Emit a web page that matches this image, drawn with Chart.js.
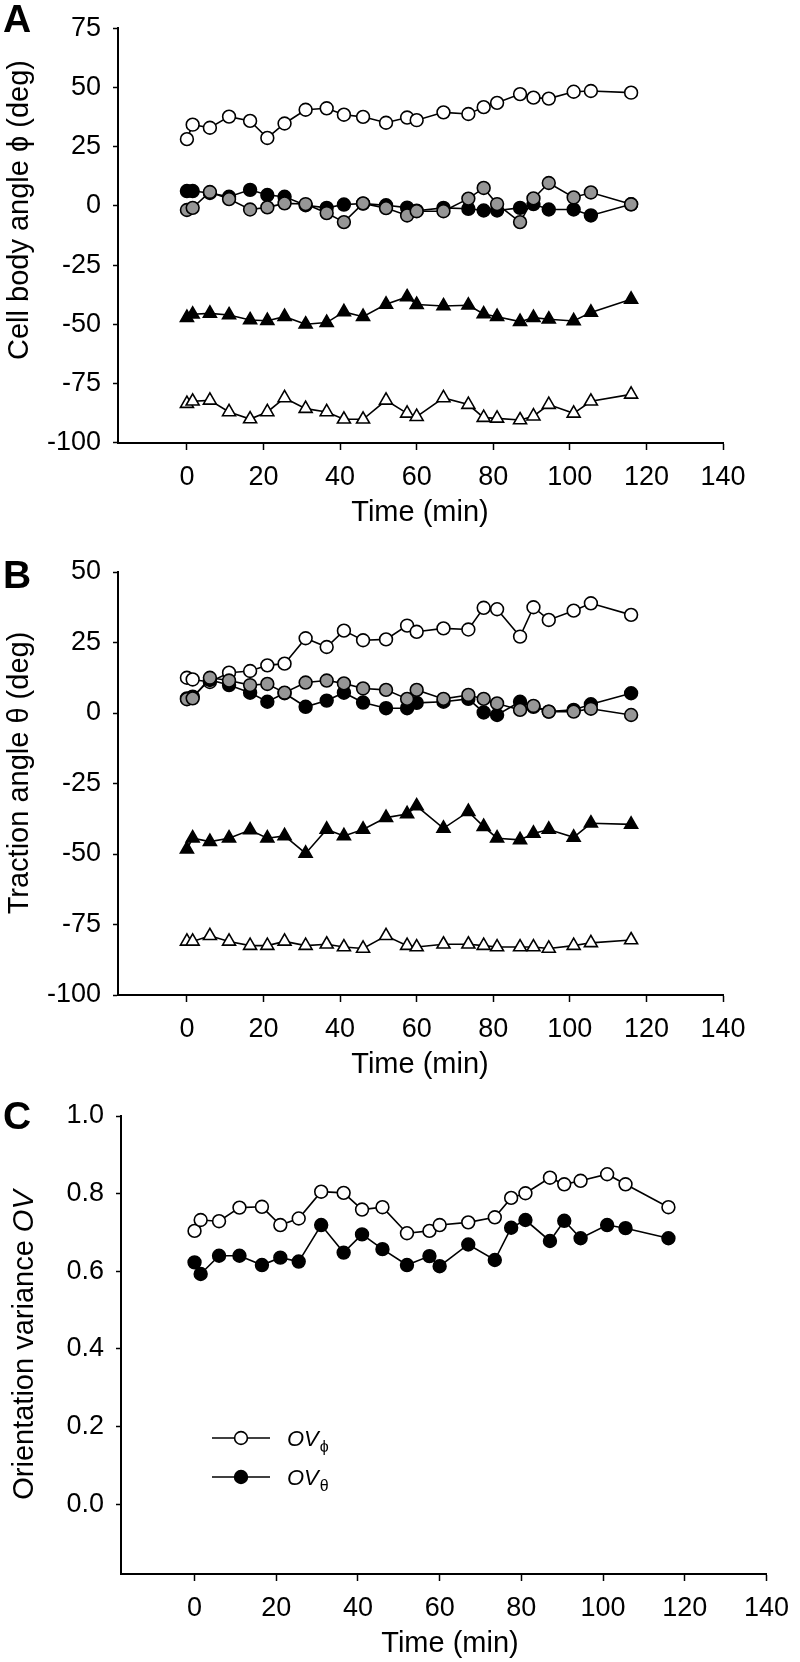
<!DOCTYPE html>
<html>
<head>
<meta charset="utf-8">
<script src="https://cdn.jsdelivr.net/npm/chart.js@4.4.1/dist/chart.umd.min.js"></script>
<style>
  html, body { margin: 0; padding: 0; background: #fff; }
  #wrap { position: relative; width: 800px; height: 1662px; }
  canvas { position: absolute; left: 0; top: 0; }
</style>
</head>
<body>
<div id="wrap">
  <canvas id="cA" width="800" height="1662"></canvas>
  <canvas id="cB" width="800" height="1662"></canvas>
  <canvas id="cC" width="800" height="1662"></canvas>
</div>
<script>
// ---------- DATA ----------
const times = [0, 1.5, 6, 11, 16.5, 21, 25.5, 31, 36.5, 41, 46, 52, 57.5, 60, 67, 73.5, 77.5, 81, 87, 90.5, 94.5, 101, 105.5, 116];

// Panel A: cell body angle phi (deg)
const phiOpenCircle  = [28.2, 34.3, 33.0, 37.7, 35.9, 28.7, 34.8, 40.6, 41.2, 38.5, 37.6, 35.1, 37.3, 36.2, 39.5, 38.8, 41.7, 43.5, 47.2, 45.7, 45.3, 48.2, 48.5, 47.8];
const phiBlackCircle = [6.3, 6.3, 5.5, 3.9, 6.8, 4.6, 3.9, 0.3, -0.8, 0.6, 1.0, 0.3, -0.7, -2.0, -0.8, -1.2, -1.9, -1.9, -0.8, 0.8, -1.5, -1.5, -4.0, 0.7];
const phiGrayCircle  = [-1.7, -0.8, 5.9, 2.9, -1.5, -0.6, 1.1, 0.8, -3.0, -6.8, 1.1, -0.9, -4.0, -2.2, -2.2, 3.1, 7.6, 0.8, -6.8, 3.2, 9.7, 3.6, 5.7, 0.7];
const phiBlackTri    = [-47.1, -45.7, -45.3, -46.0, -48.1, -48.4, -46.7, -49.9, -49.2, -44.7, -46.7, -41.5, -38.4, -41.6, -42.2, -41.9, -45.6, -46.7, -48.8, -47.1, -47.8, -48.5, -44.9, -39.4];
const phiOpenTri     = [-83.4, -82.4, -82.0, -86.9, -89.9, -86.9, -81.0, -85.5, -86.9, -90.0, -90.0, -82.0, -87.5, -88.9, -81.0, -83.8, -89.3, -89.6, -90.3, -88.7, -83.8, -87.5, -82.4, -79.5];

// Panel B: traction angle theta (deg)
const thetaOpenCircle  = [12.5, 11.9, 11.0, 14.3, 14.9, 16.9, 17.5, 26.5, 23.4, 29.2, 25.8, 26.1, 31.0, 28.8, 30.0, 29.6, 37.3, 36.8, 27.1, 37.5, 33.0, 36.3, 38.9, 34.8];
const thetaBlackCircle = [5.2, 5.8, 11.7, 9.9, 7.2, 4.0, 7.0, 2.2, 4.4, 7.2, 3.7, 1.7, 1.7, 3.6, 4.0, 5.0, 0.2, -0.7, 4.0, 2.2, 0.5, 1.1, 3.1, 7.0];
const thetaGrayCircle  = [4.9, 5.2, 12.5, 11.5, 9.9, 10.3, 7.2, 10.8, 11.5, 10.5, 8.7, 8.2, 5.0, 8.2, 5.0, 6.4, 5.0, 3.4, 1.1, 2.5, 0.5, 0.5, 1.5, -0.7];
const thetaBlackTri    = [-48.3, -44.4, -45.6, -44.4, -41.5, -44.4, -43.6, -49.8, -41.3, -43.6, -41.3, -37.1, -35.8, -33.0, -40.9, -35.0, -40.3, -44.4, -45.0, -42.7, -41.3, -44.1, -39.1, -39.5];
const thetaOpenTri     = [-81.0, -81.0, -79.0, -81.0, -82.5, -82.5, -81.0, -82.5, -82.0, -83.0, -83.5, -79.0, -82.5, -83.0, -82.0, -82.0, -82.5, -83.0, -83.0, -83.0, -83.5, -82.5, -81.5, -80.5];

// Panel C: orientation variance
const ovPhi   = [0.704, 0.732, 0.729, 0.764, 0.766, 0.719, 0.736, 0.805, 0.802, 0.759, 0.765, 0.698, 0.704, 0.719, 0.726, 0.739, 0.789, 0.801, 0.841, 0.824, 0.833, 0.850, 0.824, 0.765];
const ovTheta = [0.623, 0.593, 0.640, 0.640, 0.616, 0.635, 0.625, 0.719, 0.648, 0.695, 0.657, 0.616, 0.639, 0.613, 0.669, 0.629, 0.712, 0.732, 0.678, 0.730, 0.685, 0.719, 0.711, 0.685];

// Ticks
const xTicks  = [0, 20, 40, 60, 80, 100, 120, 140];
const yTicksA = [-100, -75, -50, -25, 0, 25, 50, 75];
const yTicksB = [-100, -75, -50, -25, 0, 25, 50];
const yTicksC = [0.0, 0.2, 0.4, 0.6, 0.8, 1.0];

// ---------- STYLE / LAYOUT ----------
const FONT = "'Liberation Sans', Arial, sans-serif";
const GRAY = '#969696';
const W = 800, H = 1662;

function pts(ys) { return times.map((t, i) => ({ x: t, y: ys[i] })); }

function ds(ys, style, fill) {
  return {
    data: pts(ys),
    borderColor: '#000',
    borderWidth: 1.6,
    pointStyle: style,
    pointRadius: style === 'triangle' ? 7.5 : 6.4,
    pointBorderWidth: 1.6,
    pointBorderColor: '#000',
    pointBackgroundColor: fill,
    fill: false,
    tension: 0
  };
}

// draws a run of text segments (each with own font) centred on (x, y)
function drawRun(ctx, segs) {
  let total = 0;
  for (const s of segs) { ctx.font = s.font; total += ctx.measureText(s.text).width; }
  let cx = -total / 2;
  ctx.textAlign = 'left';
  for (const s of segs) {
    ctx.font = s.font;
    ctx.fillText(s.text, cx, s.dy || 0);
    cx += ctx.measureText(s.text).width;
  }
}

const textPlugin = {
  id: 'extraText',
  afterDraw(chart, args, opts) {
    const ctx = chart.ctx;
    for (const t of (opts.items || [])) {
      ctx.save();
      ctx.translate(t.x, t.y);
      if (t.rot) ctx.rotate(t.rot);
      ctx.fillStyle = '#000';
      ctx.textBaseline = t.baseline || 'middle';
      if (t.segs) {
        drawRun(ctx, t.segs);
      } else {
        ctx.font = t.font;
        ctx.textAlign = t.align || 'center';
        ctx.fillText(t.text, 0, 0);
      }
      ctx.restore();
    }
    if (opts.legend) {
      for (const e of opts.legend) {
        ctx.save();
        ctx.strokeStyle = '#000';
        ctx.lineWidth = 1.6;
        ctx.beginPath();
        ctx.moveTo(e.x1, e.y); ctx.lineTo(e.x2, e.y); ctx.stroke();
        ctx.beginPath();
        ctx.arc((e.x1 + e.x2) / 2, e.y, 6.4, 0, Math.PI * 2);
        ctx.fillStyle = e.fill; ctx.fill();
        ctx.lineWidth = 1.6; ctx.stroke();
        ctx.fillStyle = '#000';
        ctx.textBaseline = 'alphabetic';
        ctx.textAlign = 'left';
        ctx.font = 'italic 22px ' + FONT;
        ctx.fillText(e.main, e.tx, e.y + 8);
        const w = ctx.measureText(e.main).width;
        ctx.font = '16px ' + FONT;
        ctx.fillText(e.sub, e.tx + w + 1, e.y + 14);
        ctx.restore();
      }
    }
  }
};

function makeChart(id, cfg) {
  const xs = cfg.area;
  return new Chart(document.getElementById(id), {
    type: 'line',
    data: { datasets: cfg.datasets },
    plugins: [textPlugin],
    options: {
      responsive: false,
      devicePixelRatio: 1,
      animation: false,
      events: [],
      layout: {
        autoPadding: false,
        padding: { left: 0, top: xs.top, right: W - xs.right, bottom: H - xs.bottom - 100 }
      },
      plugins: {
        legend: { display: false },
        tooltip: { enabled: false },
        extraText: { items: cfg.texts, legend: cfg.legend }
      },
      scales: {
        x: {
          type: 'linear',
          min: cfg.xmin, max: 140,
          afterFit: s => { s.height = 100; },
          afterBuildTicks: s => { s.ticks = xTicks.map(v => ({ value: v })); },
          grid: { display: true, drawOnChartArea: false, drawTicks: true, tickLength: 7, tickColor: '#000', tickWidth: 1.5 },
          border: { display: true, color: '#000', width: 2 },
          ticks: { color: '#000', font: { family: FONT, size: 27 }, padding: 11, maxRotation: 0, autoSkip: false }
        },
        y: {
          type: 'linear',
          min: cfg.ymin, max: cfg.ymax,
          afterFit: s => { s.width = xs.left; },
          afterBuildTicks: s => { s.ticks = cfg.yTicks.map(v => ({ value: v })); },
          grid: { display: true, drawOnChartArea: false, drawTicks: true, tickLength: 5, tickColor: '#000', tickWidth: 1.5 },
          border: { display: true, color: '#000', width: 2 },
          ticks: { color: '#000', font: { family: FONT, size: 27 }, padding: 12, autoSkip: false,
                   callback: cfg.yFmt || (v => String(v)) }
        }
      }
    }
  });
}

const TITLE = '29px ' + FONT;
const TITLE_I = 'italic 29px ' + FONT;
const LETTER = 'bold 39px ' + FONT;

// Panel A
makeChart('cA', {
  area: { left: 118, right: 723, top: 21, bottom: 443 },
  xmin: -18, ymin: -100, ymax: 75, yTicks: yTicksA,
  datasets: [
    ds(phiGrayCircle, 'circle', GRAY),
    ds(phiBlackCircle, 'circle', '#000'),
    ds(phiOpenCircle, 'circle', '#fff'),
    ds(phiBlackTri, 'triangle', '#000'),
    ds(phiOpenTri, 'triangle', '#fff')
  ],
  texts: [
    { text: 'A', x: 3, y: 32, font: LETTER, align: 'left', baseline: 'alphabetic' },
    { text: 'Cell body angle \u03D5 (deg)', x: 20, y: 210, rot: -Math.PI / 2, font: TITLE },
    { text: 'Time (min)', x: 420, y: 521, font: TITLE, baseline: 'alphabetic' }
  ]
});

// Panel B
makeChart('cB', {
  area: { left: 118, right: 723, top: 572, bottom: 995 },
  xmin: -18, ymin: -100, ymax: 50, yTicks: yTicksB,
  datasets: [
    ds(thetaGrayCircle, 'circle', GRAY),
    ds(thetaBlackCircle, 'circle', '#000'),
    ds(thetaOpenCircle, 'circle', '#fff'),
    ds(thetaBlackTri, 'triangle', '#000'),
    ds(thetaOpenTri, 'triangle', '#fff')
  ],
  texts: [
    { text: 'B', x: 3, y: 588, font: LETTER, align: 'left', baseline: 'alphabetic' },
    { text: 'Traction angle \u03B8 (deg)', x: 20, y: 773, rot: -Math.PI / 2, font: TITLE },
    { text: 'Time (min)', x: 420, y: 1073, font: TITLE, baseline: 'alphabetic' }
  ]
});

// Panel C
makeChart('cC', {
  area: { left: 121, right: 779, top: 1116, bottom: 1574 },
  xmin: -18, ymin: -0.18, ymax: 1.0, yTicks: yTicksC,
  yFmt: v => v.toFixed(1),
  datasets: [
    ds(ovTheta, 'circle', '#000'),
    ds(ovPhi, 'circle', '#fff')
  ],
  texts: [
    { text: 'C', x: 3, y: 1129, font: LETTER, align: 'left', baseline: 'alphabetic' },
    { segs: [ { text: 'Orientation variance ', font: TITLE }, { text: 'OV', font: TITLE_I } ],
      x: 25, y: 1345, rot: -Math.PI / 2 },
    { text: 'Time (min)', x: 450, y: 1652, font: TITLE, baseline: 'alphabetic' }
  ],
  legend: [
    { x1: 212, x2: 270, y: 1438, fill: '#fff', main: 'OV', sub: '\u03D5', tx: 287 },
    { x1: 212, x2: 270, y: 1477, fill: '#000', main: 'OV', sub: '\u03B8', tx: 287 }
  ]
});
</script>
</body>
</html>
